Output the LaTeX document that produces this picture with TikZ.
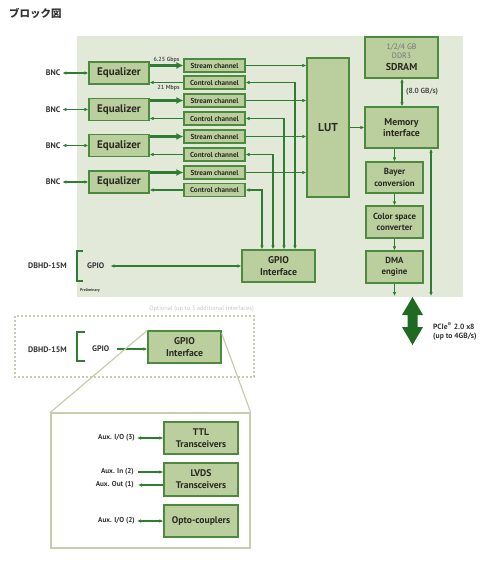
\documentclass[tikz,border=0pt]{standalone}
\usepackage{fontspec}
\setmainfont{PT Sans}
\newfontfamily\jpfont{Noto Sans CJK JP}
\usetikzlibrary{arrows.meta,calc}
\definecolor{bgc}{HTML}{E3E9D8}
\definecolor{boxfill}{HTML}{BACE9E}
\definecolor{boxline}{HTML}{4C8A3E}
\definecolor{arr}{HTML}{2E7D32}
\definecolor{txt}{HTML}{2A2A22}
\definecolor{pale}{HTML}{C6CEAE}
\definecolor{pcie}{HTML}{1F6A22}
\definecolor{lbl}{HTML}{333333}
\newcommand{\fs}[2]{\fontsize{#1}{#2}\selectfont}
\begin{document}
\begin{tikzpicture}[x=1pt,y=-1pt,
  box/.style={draw=boxline, fill=boxfill, line width=1.3pt, inner sep=1pt, align=center, text=txt, font=\bfseries},
  lab/.style={text=lbl, font=\bfseries\fs{8}{9}, inner sep=2pt},
  conn/.style={draw=arr, line width=1.1pt, -{Latex[length=4pt,width=3.6pt]}},
  biconn/.style={draw=arr, line width=1.1pt, {Latex[length=4pt,width=3.6pt]}-{Latex[length=4pt,width=3.6pt]}},
  thick conn/.style={draw=arr, line width=2.6pt, -{Latex[length=7pt,width=7pt]}},
  brack/.style={draw=arr, line width=1.6pt}
]
\useasboundingbox (0,0) rectangle (500,569);
% title
\node[anchor=west, inner sep=0pt, font=\jpfont\bfseries\fs{10.5}{12}, text=lbl] (title) at (9,13) {ブロック図};
% background
\fill[bgc] (77,36) rectangle (463,297);
\node[anchor=west, inner sep=0pt, font=\bfseries\fs{4}{5}, text=lbl] (prelim) at (80,290) {Preliminary};

% equalizers and channels
\foreach \i/\ye/\ys/\yc in {1/73/65.5/82.5, 2/109.5/100.5/118.5, 3/145.5/136.5/154.5, 4/182/172.5/190}{
  \node[box, minimum width=60pt, minimum height=22pt, font=\bfseries\fs{11}{12}] (eq\i) at (119,\ye) {Equalizer};
  \node[box, minimum width=61pt, minimum height=13pt, font=\bfseries\fs{7.2}{8}, line width=1.1pt] (sc\i) at (214.5,\ys) {Stream channel};
  \node[box, minimum width=61pt, minimum height=13pt, font=\bfseries\fs{7.2}{8}, line width=1.1pt] (cc\i) at (214.5,\yc) {Control channel};
  \node[lab] (bnc\i) at (53,\ye) {BNC};
}
% LUT etc
\node[box, minimum width=42pt, minimum height=139pt, font=\bfseries\fs{11.5}{13}] (lut) at (328,127.5) {LUT};
\node[box, minimum width=73pt, minimum height=41pt, font=\fs{7.8}{9}] (sdram) at (401.5,57.5) {{\color{black!55}\mdseries 1/2/4 GB}\\[0pt]{\color{black!55}\mdseries DDR3}\\[2.5pt]{\bfseries\fs{10}{11}SDRAM}};
\node[box, minimum width=73pt, minimum height=41pt, font=\bfseries\fs{9.8}{11.5}] (mem) at (401.5,127.5) {Memory\\interface};
\node[box, minimum width=57pt, minimum height=31pt, font=\bfseries\fs{8.8}{11.5}] (bayer) at (394.5,177.5) {Bayer\\conversion};
\node[box, minimum width=57pt, minimum height=32pt, font=\bfseries\fs{8.8}{11}] (csc) at (394.5,222) {Color space\\converter};
\node[box, minimum width=57pt, minimum height=32pt, font=\bfseries\fs{8.8}{11}] (dma) at (394.5,267) {DMA\\engine};
\node[box, minimum width=73pt, minimum height=32pt, font=\bfseries\fs{9.8}{12}] (gpio1) at (278.5,266) {GPIO\\Interface};

\coordinate (dmaout) at (394.5,296);
\coordinate (memout) at (431,296);

% connectors rows
\foreach \i in {1,2,3,4}{
  \draw[biconn] (bnc\i.east) -- (eq\i.west);
  \draw[thick conn] (eq\i.east |- sc\i.west) -- (sc\i.west);
  \draw[conn] (cc\i.west) -- (eq\i.east |- cc\i.west);
  \draw[conn] (sc\i.east) -- (lut.west |- sc\i.east);
}
\draw[biconn] (cc1.east) -| ([xshift=16.5pt]gpio1.north);
\draw[biconn] (cc2.east) -| ([xshift=5.5pt]gpio1.north);
\draw[biconn] (cc3.east) -| ([xshift=-5.5pt]gpio1.north);
\draw[biconn] (cc4.east) -| ([xshift=-16.5pt]gpio1.north);

\node[anchor=center, inner sep=0pt, font=\bfseries\fs{6}{7}, text=black!65] (l625) at (166.5,60) {6.25 Gbps};
\node[anchor=center, inner sep=0pt, font=\bfseries\fs{6}{7}, text=black!65] (l21) at (168.5,87.5) {21 Mbps};

\draw[conn] (lut.east |- mem.west) -- (mem.west);
\draw[biconn] ([xshift=0.5pt]sdram.south) -- ([xshift=0.5pt]mem.north);
\node[anchor=west, inner sep=0pt, font=\bfseries\fs{7.4}{8}, text=black!70] (bw) at (406,92) {(8.0 GB/s)};
\draw[conn] (bayer.north |- mem.south) -- (bayer.north);
\draw[conn] (bayer.south) -- (csc.north);
\draw[conn] (csc.south) -- (dma.north);
\draw[conn] (dma.south) -- (dmaout);
\draw[biconn] (memout |- mem.south) -- (memout);

% GPIO main
\node[lab] (dbhd1) at (47.5,266) {DBHD-15M};
\draw[brack] (83,251) -- (77,251) -- (77,281) -- (83,281);
\node[lab, anchor=west] (gp1) at (85,266) {GPIO};
\draw[biconn] ([xshift=4pt]gp1.east) -- (gpio1.west);

% PCIe arrow
\fill[pcie] (412.5,297) -- (423,315) -- (417.5,315) -- (417.5,327) -- (423,327) -- (412.5,345) -- (402,327) -- (407.5,327) -- (407.5,315) -- (402,315) -- cycle;
\node[anchor=west, inner sep=0pt, font=\bfseries\fs{7.6}{9}, text=lbl] (pcie1) at (433,326) {PCIe\textsuperscript{®} 2.0 x8};
\node[anchor=west, inner sep=0pt, font=\bfseries\fs{7.6}{9}, text=lbl] (pcie2) at (433,337) {(up to 4GB/s)};

% optional
\draw[pale, line width=1.3pt, dash pattern=on 2pt off 2pt] (15,316) rectangle (254,377);
\node[anchor=east, inner sep=0pt, font=\fs{6.3}{7}, text=black!22] (opt) at (254,309) {Optional (up to 3 additional interfaces)};
\node[lab] (dbhd2) at (47.5,350) {DBHD-15M};
\draw[brack] (85,332) -- (77,332) -- (77,361) -- (85,361);
\node[lab, anchor=west] (gp2) at (90,349) {GPIO};
\node[box, minimum width=73pt, minimum height=32pt, font=\bfseries\fs{9.8}{12}] (gpio2) at (184.5,347) {GPIO\\Interface};
\draw[conn] ([xshift=6pt]gp2.east) -- (gp2.east -| gpio2.west);

% detail
\node[draw=pale, line width=1.3pt, fill=white, minimum width=199pt, minimum height=135pt, inner sep=0pt] (det) at (150.5,480.5) {};
\draw[pale, line width=1.2pt] (gpio2.north west) -- (det.north west);
\draw[pale, line width=1.2pt] ([yshift=-3pt]gpio2.north east) -- (det.north east);
\node[box, minimum width=74pt, minimum height=32pt, font=\bfseries\fs{9.6}{12}] (ttl) at (201,438) {TTL\\Transceivers};
\node[box, minimum width=74pt, minimum height=33pt, font=\bfseries\fs{9.6}{12}] (lvds) at (201,479.5) {LVDS\\Transceivers};
\node[box, minimum width=74pt, minimum height=32pt, font=\bfseries\fs{9.6}{12}] (opto) at (201,521) {Opto-couplers};
\node[lab, anchor=east, font=\bfseries\fs{7.2}{8}] (aux1) at (137,438) {Aux. I/O (3)};
\node[lab, anchor=east, font=\bfseries\fs{7.2}{8}] (aux2) at (136,472) {Aux. In (2)};
\node[lab, anchor=east, font=\bfseries\fs{7.2}{8}] (aux3) at (136,485) {Aux. Out (1)};
\node[lab, anchor=east, font=\bfseries\fs{7.2}{8}] (aux4) at (137,521) {Aux. I/O (2)};
\draw[biconn] (aux1.east) -- (ttl.west);
\draw[conn] ([xshift=2pt]aux2.east) -- (aux2.east -| lvds.west);
\draw[conn] (aux3.east -| lvds.west) -- ([xshift=2pt]aux3.east);
\draw[biconn] (aux4.east) -- (opto.west);
\end{tikzpicture}
\end{document}
